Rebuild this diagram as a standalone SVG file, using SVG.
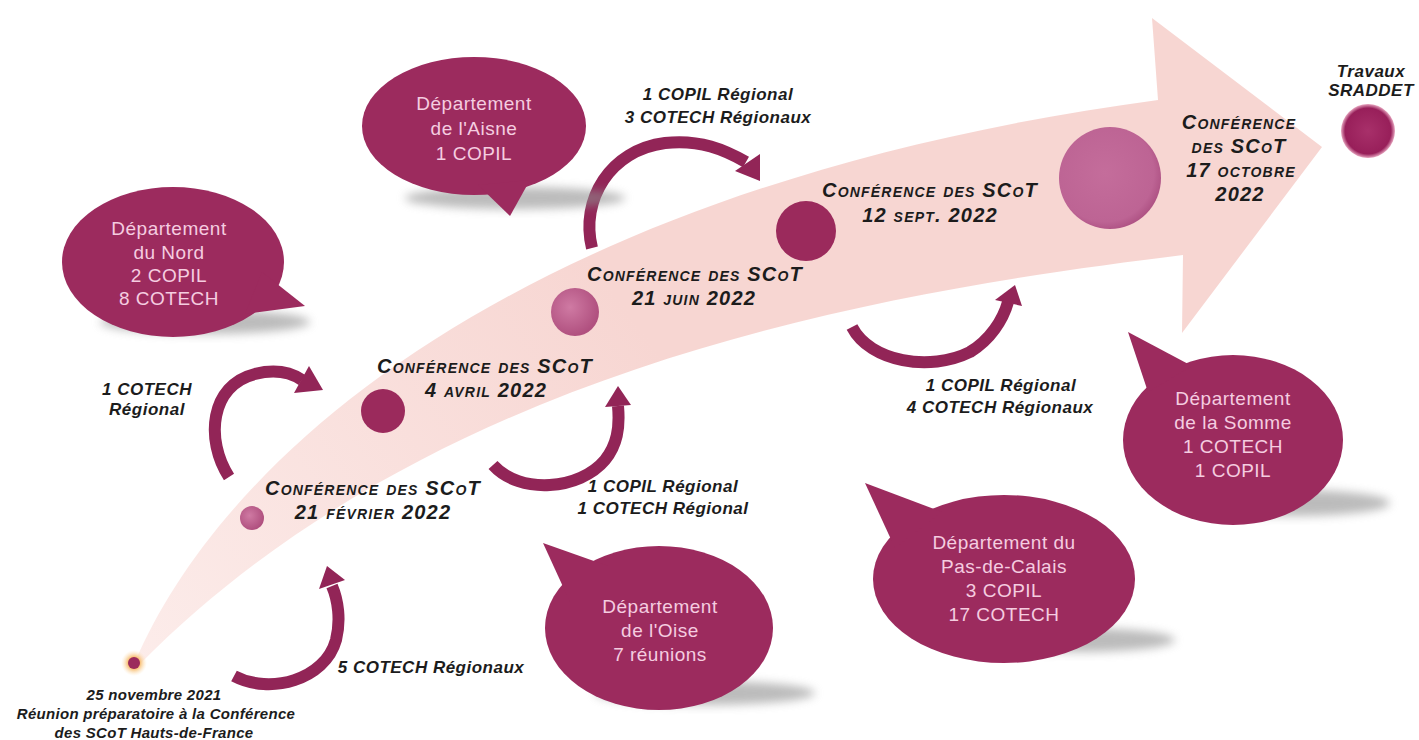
<svg xmlns="http://www.w3.org/2000/svg" width="1419" height="740" viewBox="0 0 1419 740">
<defs>
<linearGradient id="band" gradientUnits="userSpaceOnUse" x1="135" y1="660" x2="620" y2="300">
<stop offset="0" stop-color="#fcecea"/>
<stop offset="1" stop-color="#f7d6d2"/>
</linearGradient>
<radialGradient id="lightDot" cx="0.4" cy="0.4" r="0.6">
<stop offset="0" stop-color="#cf7aa3"/>
<stop offset="1" stop-color="#b0507f"/>
</radialGradient>
<radialGradient id="bigDot" cx="0.45" cy="0.45" r="0.6">
<stop offset="0" stop-color="#c46d9b"/>
<stop offset="0.8" stop-color="#bd6494"/>
<stop offset="1" stop-color="#a94c7e"/>
</radialGradient>
<radialGradient id="glow" cx="0.5" cy="0.5" r="0.5">
<stop offset="0.4" stop-color="#f6b35a"/>
<stop offset="1" stop-color="#fde6c4" stop-opacity="0"/>
</radialGradient>
<radialGradient id="endDot" cx="0.5" cy="0.5" r="0.5">
<stop offset="0" stop-color="#a8306a"/>
<stop offset="0.85" stop-color="#981f5a"/>
<stop offset="1" stop-color="#e7a6c0"/>
</radialGradient>
<filter id="blur" x="-30%" y="-100%" width="160%" height="300%">
<feGaussianBlur stdDeviation="5"/>
</filter>
</defs>
<style>
.bub{fill:#9c2b5e}
.shadow{fill:#8f8f8f;opacity:0.6;filter:url(#blur)}
.bt{font-family:"Liberation Sans",Arial,sans-serif;font-size:19px;fill:#f5cde0;text-anchor:middle;letter-spacing:0.5px}
.lab{font-family:"Liberation Sans",Arial,sans-serif;font-size:17px;font-weight:bold;font-style:italic;fill:#1c1c1c;text-anchor:middle;letter-spacing:0.5px}
.conf{font-family:"Liberation Sans",Arial,sans-serif;font-size:20px;font-weight:bold;font-style:italic;font-variant:small-caps;fill:#1c1c1c;text-anchor:middle;letter-spacing:1.2px}
.small{font-family:"Liberation Sans",Arial,sans-serif;font-size:15px;font-weight:bold;font-style:italic;fill:#1c1c1c;text-anchor:middle;letter-spacing:0.3px}
.arc{fill:none;stroke:#922557;stroke-width:12}
.head{fill:#922557}
.dark{fill:#9b2a5c}
</style>

<g id="timeline-arrow">
<path d="M135,662 C235,430 560,180 1158,100 L1152,18 L1322,147 L1182,333 L1183,255 C900,290 440,360 140,664 Z" fill="url(#band)"/>
</g>

<g id="connectors">
<path class="arc" d="M229,477 C205,440 210,385 255,374 C275,369 290,372 302,380"/>
<polygon class="head" points="294,393 309,366 323,390"/>
<path class="arc" d="M493,465 C520,495 580,490 605,460 C617,445 620,428 618,406"/>
<polygon class="head" points="605,407 631,405 618,386"/>
<path class="arc" d="M592,248 C580,200 610,150 665,143 C700,139 725,150 746,162"/>
<polygon class="head" points="735,171 760,154 760,181"/>
<path class="arc" d="M852,327 C870,362 930,372 970,352 C990,340 1003,320 1008,302"/>
<polygon class="head" points="995,300 1022,306 1015,285"/>
<path class="arc" d="M234,676 C270,695 325,680 336,640 C341,620 338,600 332,586"/>
<polygon class="head" points="319,589 345,580 327,566"/>
</g>

<g id="milestone-start">
<circle cx="134" cy="663" r="13" fill="url(#glow)"/>
<circle cx="134" cy="663" r="6" class="dark"/>
<text class="small" x="154" y="700">25 novembre 2021</text>
<text class="small" x="156" y="719">Réunion préparatoire à la Conférence</text>
<text class="small" x="154" y="738">des SCoT Hauts-de-France</text>
</g>

<g id="milestone-feb">
<circle cx="252" cy="518" r="12" fill="url(#lightDot)"/>
<text class="conf" x="373" y="495">Conférence des SCoT</text>
<text class="conf" x="373" y="519">21 février 2022</text>
</g>

<g id="milestone-apr">
<circle cx="383" cy="411" r="22" class="dark"/>
<text class="conf" x="485" y="373">Conférence des SCoT</text>
<text class="conf" x="486" y="397">4 avril 2022</text>
</g>

<g id="milestone-jun">
<circle cx="575" cy="312" r="24" fill="url(#lightDot)"/>
<text class="conf" x="695" y="281">Conférence des SCoT</text>
<text class="conf" x="694" y="305">21 juin 2022</text>
</g>

<g id="milestone-sep">
<circle cx="806" cy="231" r="30" class="dark"/>
<text class="conf" x="930" y="197">Conférence des SCoT</text>
<text class="conf" x="930" y="222">12 sept. 2022</text>
</g>

<g id="milestone-oct">
<circle cx="1110" cy="178" r="51" fill="url(#bigDot)"/>
<text class="conf" x="1239" y="129">Conférence</text>
<text class="conf" x="1239" y="153">des SCoT</text>
<text class="conf" x="1241" y="177">17 octobre</text>
<text class="conf" x="1240" y="201">2022</text>
</g>

<g id="milestone-sraddet">
<circle cx="1368" cy="131" r="27" fill="url(#endDot)"/>
<text class="lab" x="1371" y="77">Travaux</text>
<text class="lab" x="1371" y="96">SRADDET</text>
</g>

<g id="label-1cotech">
<text class="lab" x="147" y="395">1 COTECH</text>
<text class="lab" x="147" y="415">Régional</text>
</g>
<g id="label-copil-cotech">
<text class="lab" x="663" y="492">1 COPIL Régional</text>
<text class="lab" x="663" y="514">1 COTECH Régional</text>
</g>
<g id="label-3cotech">
<text class="lab" x="718" y="100">1 COPIL Régional</text>
<text class="lab" x="718" y="123">3 COTECH Régionaux</text>
</g>
<g id="label-4cotech">
<text class="lab" x="1001" y="391">1 COPIL Régional</text>
<text class="lab" x="1000" y="413">4 COTECH Régionaux</text>
</g>
<g id="label-5cotech">
<text class="lab" x="431" y="673">5 COTECH Régionaux</text>
</g>

<g id="bubble-nord">
<ellipse class="shadow" cx="205" cy="322" rx="105" ry="12"/>
<ellipse class="bub" cx="173" cy="262" rx="111" ry="75"/>
<polygon class="bub" points="262,272 305,306 245,314"/>
<text class="bt" x="169" y="235">Département</text>
<text class="bt" x="169" y="259">du Nord</text>
<text class="bt" x="169" y="282">2 COPIL</text>
<text class="bt" x="169" y="305">8 COTECH</text>
</g>

<g id="bubble-aisne">
<ellipse class="shadow" cx="515" cy="198" rx="110" ry="11"/>
<ellipse class="bub" cx="474" cy="126" rx="112" ry="69"/>
<polygon class="bub" points="478,185 510,216 530,180"/>
<text class="bt" x="474" y="110">Département</text>
<text class="bt" x="474" y="135">de l'Aisne</text>
<text class="bt" x="474" y="160">1 COPIL</text>
</g>

<g id="bubble-oise">
<ellipse class="shadow" cx="705" cy="693" rx="110" ry="12"/>
<ellipse class="bub" cx="659" cy="628" rx="114" ry="82"/>
<polygon class="bub" points="570,602 543,543 608,566"/>
<text class="bt" x="660" y="613">Département</text>
<text class="bt" x="660" y="637">de l'Oise</text>
<text class="bt" x="660" y="661">7 réunions</text>
</g>

<g id="bubble-pasdecalais">
<ellipse class="shadow" cx="1080" cy="640" rx="95" ry="12"/>
<ellipse class="bub" cx="1004" cy="579" rx="131" ry="84"/>
<polygon class="bub" points="895,548 865,483 942,512"/>
<text class="bt" x="1004" y="549">Département du</text>
<text class="bt" x="1004" y="573">Pas-de-Calais</text>
<text class="bt" x="1004" y="597">3 COPIL</text>
<text class="bt" x="1004" y="621">17 COTECH</text>
</g>

<g id="bubble-somme">
<ellipse class="shadow" cx="1295" cy="503" rx="95" ry="13"/>
<ellipse class="bub" cx="1233" cy="440" rx="110" ry="85"/>
<polygon class="bub" points="1148,392 1128,332 1192,366"/>
<text class="bt" x="1233" y="405">Département</text>
<text class="bt" x="1233" y="429">de la Somme</text>
<text class="bt" x="1233" y="453">1 COTECH</text>
<text class="bt" x="1233" y="477">1 COPIL</text>
</g>
</svg>
